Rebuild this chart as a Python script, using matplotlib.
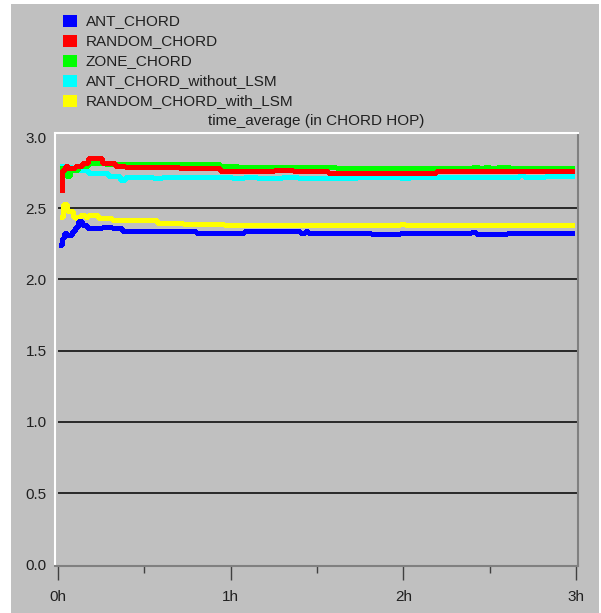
import numpy as np
import matplotlib
matplotlib.use("Agg")
import matplotlib.pyplot as plt
from matplotlib.patches import Rectangle

plt.rcParams['font.family'] = ['Liberation Sans', 'DejaVu Sans']

names = ["ANT_CHORD", "RANDOM_CHORD", "ZONE_CHORD", "ANT_CHORD_without_LSM", "RANDOM_CHORD_with_LSM"]
colors = ["#0000ff", "#ff0000", "#00ff00", "#00ffff", "#ffff00"]

# time in hours, value in chord hops
ant_t = [0.017, 0.021, 0.037, 0.05, 0.079, 0.098, 0.117, 0.137, 0.166, 0.195, 0.253, 0.311, 0.369, 0.8, 1.08, 1.40, 1.43, 1.45, 1.81, 1.98, 2.39, 2.42, 2.60, 2.975]
ant_v = [2.24, 2.29, 2.33, 2.31, 2.34, 2.37, 2.41, 2.38, 2.36, 2.36, 2.37, 2.36, 2.34, 2.33, 2.34, 2.33, 2.34, 2.33, 2.32, 2.325, 2.335, 2.32, 2.327, 2.327]

rand_t = [0.021, 0.025, 0.041, 0.06, 0.098, 0.137, 0.176, 0.214, 0.253, 0.33, 0.388, 0.7, 0.94, 1.25, 1.36, 1.565, 1.60, 2.19, 2.975]
rand_v = [2.63, 2.77, 2.80, 2.78, 2.80, 2.82, 2.85, 2.85, 2.82, 2.80, 2.79, 2.78, 2.76, 2.77, 2.76, 2.745, 2.75, 2.76, 2.76]

zone_t = [0.025, 0.045, 0.07, 0.117, 0.176, 0.272, 0.94, 1.04, 1.61, 2.40, 2.44, 2.47, 2.50, 2.54, 2.62, 2.975]
zone_v = [2.78, 2.73, 2.77, 2.80, 2.82, 2.81, 2.80, 2.79, 2.78, 2.79, 2.78, 2.79, 2.78, 2.79, 2.78, 2.78]

antw_t = [0.021, 0.041, 0.06, 0.079, 0.176, 0.291, 0.359, 0.388, 0.55, 0.6, 1.01, 1.08, 1.15, 1.30, 1.39, 1.73, 1.98, 2.04, 2.67, 2.70, 2.82, 2.975]
antw_v = [2.80, 2.76, 2.79, 2.77, 2.75, 2.73, 2.70, 2.72, 2.71, 2.72, 2.71, 2.72, 2.71, 2.72, 2.71, 2.72, 2.71, 2.72, 2.735, 2.72, 2.73, 2.73]

randw_t = [0.021, 0.031, 0.05, 0.089, 0.108, 0.127, 0.156, 0.176, 0.233, 0.311, 0.571, 0.726, 0.96, 1.98, 2.01, 2.975]
randw_v = [2.44, 2.53, 2.48, 2.44, 2.42, 2.45, 2.44, 2.45, 2.43, 2.42, 2.40, 2.39, 2.38, 2.39, 2.38, 2.38]

series = [(antw_t, antw_v, 3), (zone_t, zone_v, 2), (rand_t, rand_v, 1), (randw_t, randw_v, 4), (ant_t, ant_v, 0)]

fig = plt.figure(figsize=(6.01, 6.13), dpi=100)
fig.patch.set_facecolor("white")
fig.patches.append(Rectangle((11 / 601, 0), 588 / 601, 609 / 613, transform=fig.transFigure,
                             facecolor="#c0c0c0", edgecolor="none", zorder=-5))

ax = fig.add_axes([55 / 601, 1 - 566 / 613, 523 / 601, 433 / 613])
ax.set_facecolor("#c0c0c0")
ax.set_xlim(-0.0174, 3.0116)
ax.set_ylim(-0.0126, 3.029)

ax.hlines([0.5, 1.0, 1.5, 2.0, 2.5], 0, 3.0116, color="black", lw=1.1, zorder=1)

for t, v, i in series:
    ax.plot(t, v, color=colors[i], lw=2.2, drawstyle="steps-post", antialiased=False, zorder=3)

for s in ["top", "left"]:
    ax.spines[s].set_color("white")
    ax.spines[s].set_linewidth(1.5)
for s in ["bottom", "right"]:
    ax.spines[s].set_color("#808080")
    ax.spines[s].set_linewidth(1.5)

txt = "#202020"
ax.set_yticks([0, 0.5, 1.0, 1.5, 2.0, 2.5, 3.0])
ax.set_yticklabels(["0.0", "0.5", "1.0", "1.5", "2.0", "2.5", "3.0"])
ax.tick_params(axis="y", length=0, pad=6, labelsize=11, labelcolor=txt)
ax.set_xticks([0, 1, 2, 3])
ax.set_xticklabels(["0h", "1h", "2h", "3h"])
ax.set_xticks([0.5, 1.5, 2.5], minor=True)
ax.tick_params(axis="x", which="major", length=10, width=1, color="#404040", pad=7, labelsize=11, labelcolor=txt)
ax.tick_params(axis="x", which="minor", length=5, width=1, color="#404040")

fig.text(316 / 601, 1 - 121 / 613, "time_average (in CHORD HOP)", ha="center", va="center", fontsize=11, color=txt)

for k, name in enumerate(names):
    yc = 21 + 20 * k
    fig.patches.append(Rectangle((63 / 601, 1 - (yc + 6) / 613), 14 / 601, 12 / 613,
                                 transform=fig.transFigure, facecolor=colors[k], edgecolor="none"))
    fig.text(86 / 601, 1 - yc / 613, name, ha="left", va="center", fontsize=11, color=txt)

fig.savefig("out.png", dpi=100)
